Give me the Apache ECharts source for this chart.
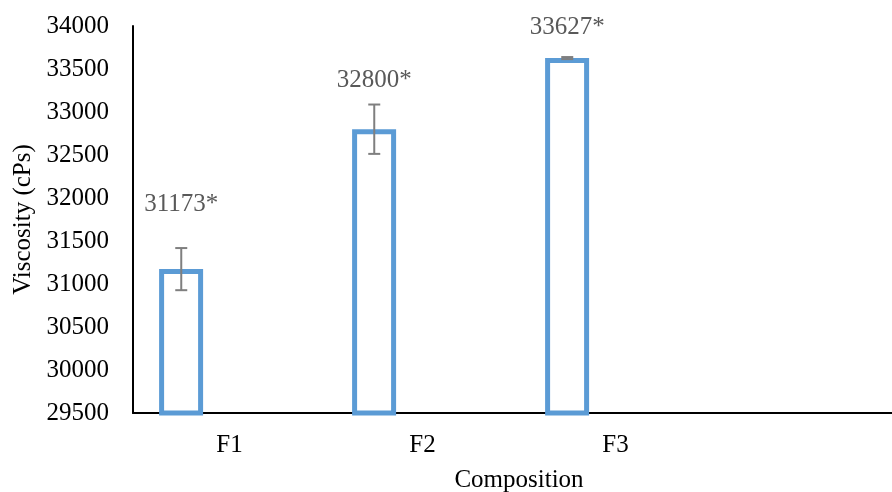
<!DOCTYPE html>
<html>
<head>
<meta charset="utf-8">
<script src="https://cdn.jsdelivr.net/npm/echarts@6/dist/echarts.min.js"></script>
<style>
html,body{margin:0;padding:0;background:#fff;}
#c{width:892px;height:492px;}
</style>
</head>
<body>
<div id="c"></div>
<script>
// ---- data ----
var categories = ['F1', 'F2', 'F3', ''];
var viscosity = [31173, 32800, 33627];
var errors = [245, 287, 12];
var labels = ['31173*', '32800*', '33627*'];

// ---- style ----
var FONT = 'Liberation Serif';
var labelLift = [44, 24, 30];

var chart = echarts.init(document.getElementById('c'), null, {renderer: 'canvas'});

var errData = viscosity.map(function (v, i) { return [i, v, errors[i]]; });

chart.setOption({
  animation: false,
  grid: {left: 133, top: 26, bottom: 79, width: 772, containLabel: false, outerBoundsMode: 'none'},
  xAxis: {
    type: 'category',
    data: categories,
    boundaryGap: true,
    axisLine: {show: true, lineStyle: {color: '#000', width: 2}},
    axisTick: {show: false},
    axisLabel: {color: '#000', fontFamily: FONT, fontSize: 25, margin: 20},
    splitLine: {show: false},
    name: 'Composition',
    nameLocation: 'middle',
    nameGap: 55,
    nameTextStyle: {color: '#000', fontFamily: FONT, fontSize: 25}
  },
  yAxis: {
    type: 'value',
    min: 29500,
    max: 34000,
    interval: 500,
    axisLine: {show: true, lineStyle: {color: '#000', width: 2}},
    axisTick: {show: false},
    splitLine: {show: false},
    axisLabel: {color: '#000', fontFamily: FONT, fontSize: 25, margin: 24,
      formatter: function (v) { return String(v); }},
    name: 'Viscosity (cPs)',
    nameLocation: 'middle',
    nameGap: 92,
    nameTextStyle: {color: '#000', fontFamily: FONT, fontSize: 25}
  },
  series: [
    {
      type: 'bar',
      data: viscosity,
      barWidth: 44,
      barGap: '120%',
      itemStyle: {color: '#ffffff', borderColor: '#5B9BD5', borderWidth: 5},
      z: 2
    },
    {
      type: 'bar',
      data: [null, null, null, null],
      barWidth: 44,
      itemStyle: {color: 'transparent'}
    },
    {
      type: 'custom',
      data: errData,
      z: 5,
      renderItem: function (params, api) {
        var i = api.value(0), v = api.value(1), e = api.value(2);
        var band = api.size([1, 0])[0];
        var off = -band / 4;
        var hi = api.coord([i, v + e]);
        var lo = api.coord([i, v - e]);
        var x = hi[0] + off;
        var cap = 6;
        var st = {stroke: '#7f7f7f', lineWidth: 2};
        return {
          type: 'group',
          children: [
            {type: 'line', shape: {x1: x, y1: hi[1], x2: x, y2: lo[1]}, style: st},
            {type: 'line', shape: {x1: x - cap, y1: hi[1], x2: x + cap, y2: hi[1]}, style: st},
            {type: 'line', shape: {x1: x - cap, y1: lo[1], x2: x + cap, y2: lo[1]}, style: st},
            {type: 'text', x: x, y: hi[1] - labelLift[i],
              style: {text: labels[i], fill: '#595959', font: '25px "' + FONT + '"', align: 'center', verticalAlign: 'middle'}}
          ]
        };
      }
    }
  ]
});
</script>
</body>
</html>
